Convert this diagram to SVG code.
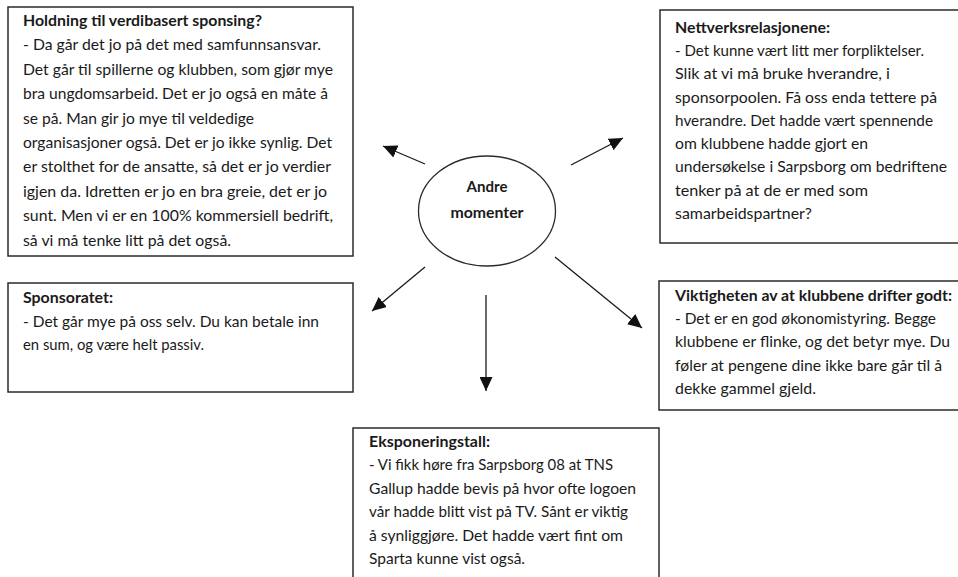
<svg xmlns="http://www.w3.org/2000/svg" width="958" height="577" viewBox="0 0 958 577">
  <style>
    .box { fill: #ffffff; stroke: #2b2b2b; stroke-width: 1.5; }
    text { font-family: Lato, "Open Sans", "Liberation Sans", sans-serif; font-size: 15px; fill: #1a1a1a; }
    .b { font-weight: bold; }
    .conn { stroke: #1a1a1a; stroke-width: 1.3; fill: none; marker-end: url(#arrow); }
    .hub { fill: #ffffff; stroke: #2b2b2b; stroke-width: 1.3; }
  </style>
  <defs>
    <marker id="arrow" markerUnits="userSpaceOnUse" markerWidth="15" markerHeight="13" refX="14" refY="6.5" orient="auto">
      <path d="M0,0 L14,6.5 L0,13 Z" fill="#111111"/>
    </marker>
  </defs>
  <rect width="958" height="577" fill="#ffffff"/>

  <g id="connectors">
    <line class="conn" x1="425" y1="164" x2="383" y2="146"/>
    <line class="conn" x1="571" y1="165" x2="623" y2="138"/>
    <line class="conn" x1="425" y1="267" x2="372" y2="311"/>
    <line class="conn" x1="486" y1="295" x2="486" y2="391"/>
    <line class="conn" x1="555" y1="257" x2="642" y2="328"/>
  </g>

  <g id="hub">
    <ellipse class="hub" cx="487" cy="211" rx="68.5" ry="55"/>
    <text class="b" x="487" y="192" text-anchor="middle" textLength="41" lengthAdjust="spacingAndGlyphs">Andre</text>
    <text class="b" x="487" y="218" text-anchor="middle" textLength="73" lengthAdjust="spacingAndGlyphs">momenter</text>
  </g>

  <g id="holdning">
    <rect class="box" x="8" y="7" width="345" height="249"/>
    <text class="b" x="23" y="26" textLength="239" lengthAdjust="spacingAndGlyphs">Holdning til verdibasert sponsing?</text>
    <text x="23" y="50.4" textLength="298" lengthAdjust="spacingAndGlyphs">- Da går det jo på det med samfunnsansvar.</text>
    <text x="23" y="74.8" textLength="310" lengthAdjust="spacingAndGlyphs">Det går til spillerne og klubben, som gjør mye</text>
    <text x="23" y="99.2" textLength="305" lengthAdjust="spacingAndGlyphs">bra ungdomsarbeid. Det er jo også en måte å</text>
    <text x="23" y="123.6" textLength="231" lengthAdjust="spacingAndGlyphs">se på. Man gir jo mye til veldedige</text>
    <text x="23" y="148" textLength="309" lengthAdjust="spacingAndGlyphs">organisasjoner også. Det er jo ikke synlig. Det</text>
    <text x="23" y="172.4" textLength="308" lengthAdjust="spacingAndGlyphs">er stolthet for de ansatte, så det er jo verdier</text>
    <text x="23" y="196.8" textLength="304" lengthAdjust="spacingAndGlyphs">igjen da. Idretten er jo en bra greie, det er jo</text>
    <text x="23" y="221.2" textLength="310" lengthAdjust="spacingAndGlyphs">sunt. Men vi er en 100% kommersiell bedrift,</text>
    <text x="23" y="245.6" textLength="208" lengthAdjust="spacingAndGlyphs">så vi må tenke litt på det også.</text>
  </g>

  <g id="nettverk">
    <rect class="box" x="660" y="10" width="302" height="233"/>
    <text class="b" x="675" y="33" textLength="155" lengthAdjust="spacingAndGlyphs">Nettverksrelasjonene:</text>
    <text x="675" y="56" textLength="249" lengthAdjust="spacingAndGlyphs">- Det kunne vært litt mer forpliktelser.</text>
    <text x="675" y="79" textLength="215" lengthAdjust="spacingAndGlyphs">Slik at vi må bruke hverandre, i</text>
    <text x="675" y="103" textLength="262" lengthAdjust="spacingAndGlyphs">sponsorpoolen. Få oss enda tettere på</text>
    <text x="675" y="126" textLength="258" lengthAdjust="spacingAndGlyphs">hverandre. Det hadde vært spennende</text>
    <text x="675" y="149" textLength="193" lengthAdjust="spacingAndGlyphs">om klubbene hadde gjort en</text>
    <text x="675" y="172" textLength="272" lengthAdjust="spacingAndGlyphs">undersøkelse i Sarpsborg om bedriftene</text>
    <text x="675" y="196" textLength="193" lengthAdjust="spacingAndGlyphs">tenker på at de er med som</text>
    <text x="675" y="219" textLength="137" lengthAdjust="spacingAndGlyphs">samarbeidspartner?</text>
  </g>

  <g id="sponsoratet">
    <rect class="box" x="8" y="283" width="345" height="109"/>
    <text class="b" x="23" y="303" textLength="90" lengthAdjust="spacingAndGlyphs">Sponsoratet:</text>
    <text x="23" y="327" textLength="296" lengthAdjust="spacingAndGlyphs">- Det går mye på oss selv. Du kan betale inn</text>
    <text x="23" y="350" textLength="181" lengthAdjust="spacingAndGlyphs">en sum, og være helt passiv.</text>
  </g>

  <g id="viktigheten">
    <rect class="box" x="659" y="281" width="303" height="129"/>
    <text class="b" x="675" y="301" textLength="277" lengthAdjust="spacingAndGlyphs">Viktigheten av at klubbene drifter godt:</text>
    <text x="675" y="324" textLength="261" lengthAdjust="spacingAndGlyphs">- Det er en god økonomistyring. Begge</text>
    <text x="675" y="347" textLength="275" lengthAdjust="spacingAndGlyphs">klubbene er flinke, og det betyr mye. Du</text>
    <text x="675" y="371" textLength="267" lengthAdjust="spacingAndGlyphs">føler at pengene dine ikke bare går til å</text>
    <text x="675" y="394" textLength="141" lengthAdjust="spacingAndGlyphs">dekke gammel gjeld.</text>
  </g>

  <g id="eksponering">
    <rect class="box" x="353" y="428" width="306" height="160"/>
    <text class="b" x="369" y="447" textLength="121" lengthAdjust="spacingAndGlyphs">Eksponeringstall:</text>
    <text x="369" y="470" textLength="244" lengthAdjust="spacingAndGlyphs">- Vi fikk høre fra Sarpsborg 08 at TNS</text>
    <text x="369" y="494" textLength="267" lengthAdjust="spacingAndGlyphs">Gallup hadde bevis på hvor ofte logoen</text>
    <text x="369" y="517" textLength="259" lengthAdjust="spacingAndGlyphs">vår hadde blitt vist på TV. Sånt er viktig</text>
    <text x="369" y="541" textLength="254" lengthAdjust="spacingAndGlyphs">å synliggjøre. Det hadde vært fint om</text>
    <text x="369" y="564" textLength="156" lengthAdjust="spacingAndGlyphs">Sparta kunne vist også.</text>
  </g>
</svg>
